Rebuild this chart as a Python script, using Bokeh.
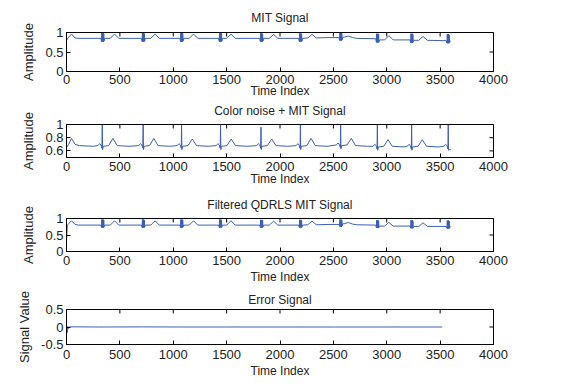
import math
from bokeh.plotting import figure
from bokeh.layouts import column
from bokeh.models import FixedTicker, LinearAxis
from bokeh.embed import file_html
from bokeh.resources import INLINE

# ---------------- data ----------------
x_ticks = [0, 500, 1000, 1500, 2000, 2500, 3000, 3500, 4000]
x_tick_labels = ["0", "500", "1000", "1500", "2000", "2500", "3000", "3500", "4000"]

titles = ["MIT Signal", "Color noise + MIT Signal", "Filtered QDRLS MIT Signal", "Error Signal"]
y_labels = ["Amplitude", "Amplitude", "Amplitude", "Signal Value"]
x_label = "Time Index"

y_ranges = [(0, 1), (0.5, 1), (0, 1), (-0.5, 0.5)]
y_ticks = [[0, 0.5, 1], [0.6, 0.8, 1], [0, 0.5, 1], [-0.5, 0, 0.5]]
y_tick_labels = [["0", "0.5", "1"], ["0.6", "0.8", "1"], ["0", "0.5", "1"], ["-0.5", "0", "0.5"]]

# MIT signal
mit_x = [0, 20, 47, 80, 110,
         322, 328, 331, 334, 337, 340, 343, 346, 349, 352, 358, 410, 450, 490,
         702, 708, 711, 714, 717, 720, 723, 726, 729, 732, 738, 790, 830, 870,
         1062, 1068, 1071, 1074, 1077, 1080, 1083, 1086, 1089, 1092, 1098, 1150, 1190, 1230,
         1425, 1431, 1434, 1437, 1440, 1443, 1446, 1449, 1452, 1455, 1461, 1500, 1540, 1580,
         1810, 1816, 1819, 1822, 1825, 1828, 1831, 1834, 1837, 1840, 1846, 1900, 1940, 1980,
         2175, 2181, 2184, 2187, 2190, 2193, 2196, 2199, 2202, 2205, 2211, 2260, 2300, 2340,
         2450,
         2552, 2558, 2561, 2564, 2567, 2570, 2573, 2576, 2579, 2582, 2588, 2600, 2640, 2680, 2720,
         2897, 2903, 2906, 2909, 2912, 2915, 2918, 2921, 2924, 2927, 2933, 2980, 3020, 3060,
         3218, 3224, 3227, 3230, 3233, 3236, 3239, 3242, 3245, 3248, 3254, 3300, 3340, 3380,
         3558, 3564, 3567, 3570, 3573, 3576, 3579, 3582, 3585, 3588, 3594, 3599]
mit_y = [0.80, 0.88, 0.96, 0.86, 0.85,
         0.85, 0.77, 0.99, 0.76, 0.98, 0.77, 0.99, 0.76, 0.97, 0.78, 0.85, 0.85, 0.96, 0.85,
         0.85, 0.77, 0.99, 0.76, 0.98, 0.77, 0.99, 0.76, 0.97, 0.78, 0.85, 0.85, 0.96, 0.85,
         0.85, 0.77, 0.99, 0.76, 0.98, 0.77, 0.99, 0.76, 0.97, 0.78, 0.85, 0.85, 0.96, 0.85,
         0.85, 0.77, 0.99, 0.76, 0.98, 0.77, 0.99, 0.76, 0.97, 0.78, 0.85, 0.85, 0.96, 0.85,
         0.85, 0.77, 0.98, 0.76, 0.97, 0.77, 0.98, 0.76, 0.96, 0.78, 0.85, 0.85, 0.95, 0.85,
         0.85, 0.77, 0.98, 0.76, 0.97, 0.77, 0.98, 0.76, 0.96, 0.78, 0.85, 0.86, 0.95, 0.86,
         0.87,
         0.87, 0.80, 0.99, 0.79, 0.98, 0.80, 0.99, 0.79, 0.98, 0.81, 0.88, 0.88, 0.91, 0.87, 0.85,
         0.84, 0.75, 0.97, 0.74, 0.96, 0.75, 0.97, 0.74, 0.95, 0.76, 0.81, 0.81, 0.92, 0.81,
         0.81, 0.74, 0.97, 0.73, 0.96, 0.74, 0.97, 0.73, 0.95, 0.75, 0.80, 0.80, 0.90, 0.80,
         0.79, 0.73, 0.96, 0.72, 0.95, 0.73, 0.96, 0.72, 0.94, 0.74, 0.78, 0.78]

# Colour noise + MIT signal
noisy_x = [0, 20, 47, 80, 120, 250,
           295, 310, 323, 332, 335, 338, 345, 395, 435, 475, 585,
           678, 693, 706, 715, 718, 721, 728, 778, 818, 858, 968,
           1038, 1053, 1066, 1075, 1078, 1081, 1088, 1138, 1178, 1218, 1328,
           1403, 1418, 1431, 1440, 1443, 1446, 1453, 1503, 1543, 1583, 1693,
           1782, 1797, 1810, 1819, 1822, 1825, 1832, 1882, 1922, 1962, 2072,
           2151, 2166, 2179, 2188, 2191, 2194, 2201, 2251, 2291, 2331, 2441,
           2528, 2543, 2556, 2565, 2568, 2571, 2578, 2628, 2668, 2708, 2818,
           2872, 2887, 2900, 2909, 2912, 2915, 2922, 2972, 3012, 3052, 3162,
           3193, 3208, 3221, 3230, 3233, 3236, 3243, 3293, 3333, 3373, 3483,
           3536, 3551, 3564, 3573, 3576, 3579, 3590, 3599]
noisy_y = [0.65, 0.70, 0.79, 0.70, 0.68, 0.67,
           0.68, 0.71, 0.69, 0.64, 0.995, 0.62, 0.67, 0.68, 0.79, 0.68, 0.67,
           0.68, 0.71, 0.69, 0.64, 0.995, 0.62, 0.67, 0.68, 0.79, 0.68, 0.67,
           0.68, 0.71, 0.69, 0.64, 0.995, 0.62, 0.67, 0.68, 0.78, 0.68, 0.67,
           0.68, 0.71, 0.69, 0.64, 0.995, 0.62, 0.67, 0.68, 0.78, 0.68, 0.67,
           0.68, 0.71, 0.69, 0.64, 0.96, 0.62, 0.67, 0.68, 0.78, 0.68, 0.67,
           0.68, 0.71, 0.69, 0.64, 0.995, 0.62, 0.67, 0.68, 0.79, 0.68, 0.67,
           0.69, 0.72, 0.70, 0.65, 0.995, 0.63, 0.68, 0.69, 0.79, 0.68, 0.67,
           0.67, 0.70, 0.68, 0.63, 0.995, 0.61, 0.66, 0.67, 0.77, 0.67, 0.66,
           0.67, 0.70, 0.68, 0.63, 0.995, 0.61, 0.66, 0.67, 0.77, 0.67, 0.66,
           0.67, 0.70, 0.68, 0.63, 0.995, 0.61, 0.62, 0.62]

# Filtered QDRLS MIT signal
filt_x = [0, 8, 20, 47, 80, 110,
          322, 328, 331, 334, 337, 340, 343, 346, 349, 352, 358, 410, 450, 490,
          702, 708, 711, 714, 717, 720, 723, 726, 729, 732, 738, 790, 830, 870,
          1062, 1068, 1071, 1074, 1077, 1080, 1083, 1086, 1089, 1092, 1098, 1150, 1190, 1230,
          1425, 1431, 1434, 1437, 1440, 1443, 1446, 1449, 1452, 1455, 1461, 1500, 1540, 1580,
          1810, 1816, 1819, 1822, 1825, 1828, 1831, 1834, 1837, 1840, 1846, 1900, 1940, 1980,
          2175, 2181, 2184, 2187, 2190, 2193, 2196, 2199, 2202, 2205, 2211, 2260, 2300, 2340,
          2450,
          2552, 2558, 2561, 2564, 2567, 2570, 2573, 2576, 2579, 2582, 2588, 2600, 2640, 2680, 2720,
          2897, 2903, 2906, 2909, 2912, 2915, 2918, 2921, 2924, 2927, 2933, 2980, 3020, 3060,
          3218, 3224, 3227, 3230, 3233, 3236, 3239, 3242, 3245, 3248, 3254, 3300, 3340, 3380,
          3558, 3564, 3567, 3570, 3573, 3576, 3579, 3582, 3585, 3588, 3594, 3599]
filt_y = [0.33, 0.80, 0.84, 0.93, 0.82, 0.80,
          0.80, 0.73, 0.97, 0.72, 0.96, 0.73, 0.97, 0.72, 0.95, 0.74, 0.80, 0.80, 0.93, 0.80,
          0.80, 0.73, 0.97, 0.72, 0.96, 0.73, 0.97, 0.72, 0.95, 0.74, 0.80, 0.80, 0.93, 0.80,
          0.80, 0.73, 0.97, 0.72, 0.96, 0.73, 0.97, 0.72, 0.95, 0.74, 0.80, 0.80, 0.93, 0.80,
          0.80, 0.73, 0.97, 0.72, 0.96, 0.73, 0.97, 0.72, 0.95, 0.74, 0.80, 0.80, 0.93, 0.80,
          0.80, 0.73, 0.96, 0.72, 0.95, 0.73, 0.96, 0.72, 0.94, 0.74, 0.80, 0.80, 0.92, 0.80,
          0.80, 0.73, 0.96, 0.72, 0.95, 0.73, 0.96, 0.72, 0.94, 0.74, 0.80, 0.81, 0.92, 0.81,
          0.82,
          0.82, 0.76, 0.97, 0.75, 0.96, 0.76, 0.97, 0.75, 0.95, 0.77, 0.84, 0.84, 0.88, 0.83, 0.81,
          0.80, 0.72, 0.95, 0.71, 0.94, 0.72, 0.95, 0.71, 0.93, 0.73, 0.77, 0.77, 0.88, 0.77,
          0.77, 0.71, 0.95, 0.70, 0.94, 0.71, 0.95, 0.70, 0.93, 0.72, 0.76, 0.76, 0.87, 0.76,
          0.76, 0.70, 0.94, 0.69, 0.93, 0.70, 0.94, 0.69, 0.92, 0.71, 0.75, 0.75]

# Error signal
err_x = [0, 3, 6, 9, 13, 20, 40, 300, 700, 1100, 1500, 2000, 2500, 3000, 3520]
err_y = [-0.30, 0.02, -0.16, 0.01, -0.06, 0.0, 0.005, 0.0, 0.003, 0.0, 0.0, 0.0, 0.0, 0.0, 0.0]

series_x = [mit_x, noisy_x, filt_x, err_x]
series_y = [mit_y, noisy_y, filt_y, err_y]

# ---------------- layout / style ----------------
line_color = "#3c5eb3"
text_color = "#222222"
font = "Liberation Sans"
heights = [100, 92, 94, 94]
tops = [32, 24, 26, 23]
bottoms = [28, 35, 35, 36]
title_standoffs = [8, 7, 7, 3]
x_tick_standoffs = [3, 4, 4, 5]
x_label_standoffs = [-3, -2, 2, 2]


def style_axis(ax, ticks, labels, size="13px"):
    ax.ticker = FixedTicker(ticks=ticks)
    ax.major_label_overrides = {t: l for t, l in zip(ticks, labels)}
    ax.axis_line_color = "black"
    ax.major_tick_line_color = "black"
    ax.major_tick_in = 4
    ax.major_tick_out = 0
    ax.minor_tick_line_color = None
    ax.major_label_text_font = font
    ax.major_label_text_font_size = size
    ax.major_label_text_color = text_color


figs = []
for i in range(4):
    y0, y1 = y_ranges[i]
    p = figure(width=553, height=heights[i],
               x_range=(0, 4000), y_range=y_ranges[i],
               min_border_left=66, min_border_right=60,
               min_border_top=tops[i], min_border_bottom=bottoms[i],
               output_backend="svg", toolbar_location=None)
    p.line(series_x[i], series_y[i], line_color=line_color, line_width=1)

    # inward tick marks on the top and right edges (clipped to the frame)
    p.scatter(x_ticks, [y1] * len(x_ticks), marker="dash", size=8, angle=math.pi / 2,
              line_color="black", line_width=1)
    p.scatter([4000] * len(y_ticks[i]), y_ticks[i], marker="dash", size=8,
              line_color="black", line_width=1)

    p.xgrid.visible = False
    p.ygrid.visible = False
    p.outline_line_color = "black"
    p.outline_line_alpha = 1
    p.background_fill_color = "white"
    p.border_fill_color = "white"

    xa = p.below[0]
    style_axis(xa, x_ticks, x_tick_labels)
    xa.axis_label = x_label
    xa.axis_label_text_font = font
    xa.axis_label_text_font_size = "12px"
    xa.axis_label_text_font_style = "normal"
    xa.axis_label_text_color = text_color
    xa.axis_label_standoff = x_label_standoffs[i]
    xa.major_label_standoff = x_tick_standoffs[i]

    ya = p.left[0]
    style_axis(ya, y_ticks[i], y_tick_labels[i])
    ya.axis_label = y_labels[i]
    ya.axis_label_text_font = font
    ya.axis_label_text_font_size = "13px"
    ya.axis_label_text_font_style = "normal"
    ya.axis_label_text_color = text_color
    ya.axis_label_standoff = 6
    ya.major_label_standoff = 3

    # subplot title, placed as the label of a tick-less axis above the frame
    top_ax = LinearAxis(ticker=FixedTicker(ticks=[]))
    top_ax.axis_line_color = None
    top_ax.major_tick_line_color = None
    top_ax.minor_tick_line_color = None
    top_ax.major_tick_in = 0
    top_ax.major_tick_out = 0
    top_ax.major_label_standoff = 0
    top_ax.axis_label = titles[i]
    top_ax.axis_label_text_font = font
    top_ax.axis_label_text_font_size = "12px"
    top_ax.axis_label_text_font_style = "normal"
    top_ax.axis_label_text_color = text_color
    top_ax.axis_label_standoff = title_standoffs[i]
    p.add_layout(top_ax, "above")

    figs.append(p)

layout = column(*figs, spacing=0)
open("out.html", "w").write(file_html(layout, INLINE))
